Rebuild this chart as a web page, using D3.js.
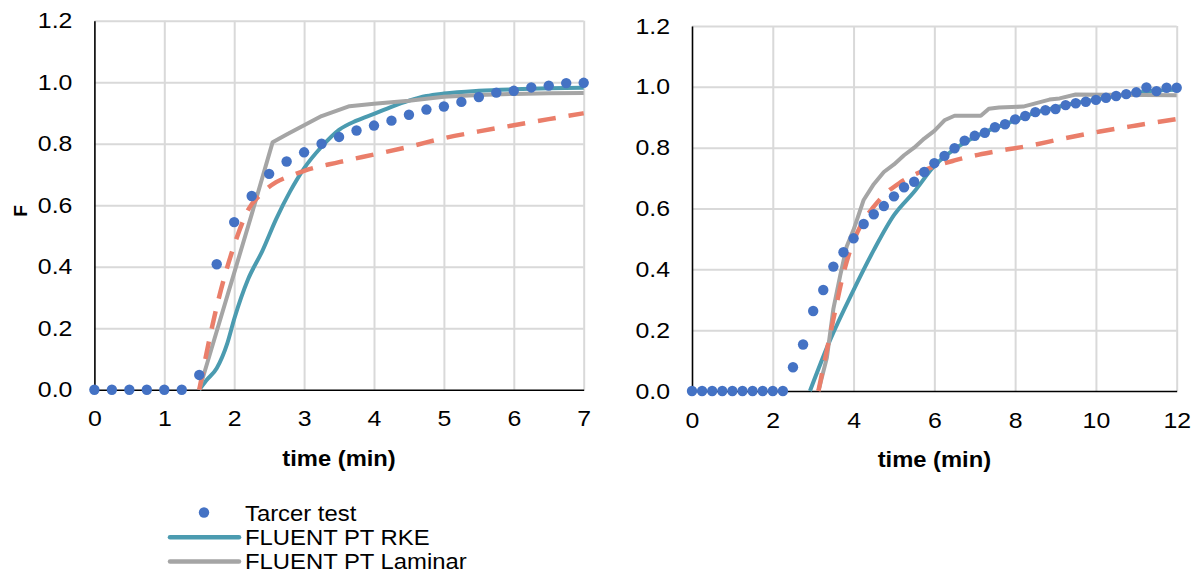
<!DOCTYPE html>
<html><head><meta charset="utf-8">
<script src="https://cdn.jsdelivr.net/npm/d3@7"></script>
<style>
body{margin:0;background:#fff;}
svg text{font-family:"Liberation Sans",Arial,sans-serif;fill:#000;}
</style></head>
<body><svg id="c" width="1198" height="574"></svg>
<script>
// ---------- data ----------
const leftTracerT = [0,0.25,0.5,0.75,1,1.25,1.5,1.75,2,2.25,2.5,2.75,3,3.25,3.5,3.75,4,4.25,4.5,4.75,5,5.25,5.5,5.75,6,6.25,6.5,6.75,7];
const leftTracerF = [0,0,0,0,0,0,0.048,0.408,0.545,0.63,0.702,0.742,0.772,0.80,0.822,0.843,0.859,0.875,0.894,0.911,0.921,0.936,0.952,0.966,0.972,0.983,0.989,0.997,0.998];
const leftRkeT = [1.5,1.6,1.75,1.9,2.0,2.2,2.4,2.6,2.8,3.0,3.25,3.5,3.75,4.0,4.25,4.5,4.75,5.0,5.5,6,6.5,7];
const leftRkeF = [0,0.03,0.07,0.15,0.23,0.36,0.45,0.555,0.645,0.72,0.79,0.845,0.875,0.897,0.92,0.94,0.955,0.963,0.972,0.977,0.98,0.982];
const leftLamT = [1.5,1.75,2.0,2.25,2.55,2.75,3.0,3.25,3.5,3.65,4.0,4.5,5.0,5.5,6.0,6.5,7.0];
const leftLamF = [0,0.19,0.38,0.57,0.805,0.83,0.86,0.89,0.91,0.922,0.93,0.94,0.953,0.958,0.962,0.964,0.965];
const leftDashT = [1.5,1.75,2.0,2.2,2.4,2.6,2.8,3.0,3.5,4.0,4.5,5.0,5.5,6.0,6.5,7.0];
const leftDashF = [0,0.27,0.47,0.585,0.64,0.675,0.695,0.712,0.74,0.765,0.79,0.818,0.84,0.86,0.88,0.899];

const rightTracerT = [0,0.25,0.5,0.75,1,1.25,1.5,1.75,2,2.25,2.5,2.75,3,3.25,3.5,3.75,4,4.25,4.5,4.75,5,5.25,5.5,5.75,6,6.25,6.5,6.75,7,7.25,7.5,7.75,8,8.25,8.5,8.75,9,9.25,9.5,9.75,10,10.25,10.5,10.75,11,11.25,11.5,11.75,12];
const rightTracerF = [0,0,0,0,0,0,0,0,0,0,0.078,0.153,0.263,0.332,0.409,0.456,0.502,0.549,0.581,0.608,0.64,0.67,0.688,0.72,0.749,0.773,0.798,0.823,0.839,0.849,0.867,0.877,0.893,0.904,0.917,0.923,0.927,0.94,0.946,0.951,0.957,0.964,0.97,0.976,0.982,0.998,0.986,0.997,0.997];
const rightRkeT = [2.92,3.42,4.0,4.5,5.0,5.5,6.0,6.5,7.0,7.5,8.0,8.5,9.0,9.5,10.0,10.5,11.0,11.5,12.0];
const rightRkeF = [0,0.168,0.332,0.463,0.578,0.655,0.74,0.795,0.835,0.865,0.89,0.915,0.932,0.947,0.958,0.97,0.98,0.988,0.99];
const rightLamT = [3.13,3.34,3.5,3.67,3.83,4.0,4.25,4.5,4.75,5.0,5.25,5.5,5.75,6.0,6.25,6.5,7.15,7.35,7.6,8.2,8.85,9.1,9.5,12.0];
const rightLamF = [0,0.11,0.27,0.38,0.475,0.53,0.628,0.68,0.72,0.745,0.775,0.80,0.83,0.855,0.89,0.905,0.905,0.928,0.932,0.935,0.958,0.962,0.975,0.972];
const rightDashT = [3.13,3.34,3.55,3.71,3.92,4.2,4.5,4.8,5.15,5.65,6.5,7.5,8.3,9.2,10.1,11.0,12.0];
const rightDashF = [0,0.135,0.267,0.365,0.464,0.55,0.606,0.65,0.685,0.72,0.758,0.787,0.805,0.83,0.853,0.873,0.894];

const yTicks = [0,0.2,0.4,0.6,0.8,1.0,1.2];
const leftXTicks = [0,1,2,3,4,5,6,7];
const rightXTicks = [0,2,4,6,8,10,12];
const xTitle = "time (min)";
const yTitle = "F";
const legendNames = ["Tarcer test","FLUENT PT RKE","FLUENT PT Laminar"];

const C = {dot:"#4472C4", rke:"#4B9BB0", lam:"#A5A5A5", dash:"#EA7E6A", grid:"#D9D9D9"};
const zip = (a,b)=>a.map((v,i)=>[v,b[i]]);
const SX = 1.13; // horizontal text stretch seen in the reference

const svg = d3.select("#c");

function panel(cfg){
  const x = d3.scaleLinear().domain([0,cfg.xmax]).range([cfg.x0,cfg.x1]);
  const y = d3.scaleLinear().domain([0,1.2]).range([cfg.y0,cfg.y1]);
  const g = svg.append("g");
  // gridlines
  g.append("g").attr("transform",`translate(0,${cfg.y0})`)
    .call(d3.axisBottom(x).tickValues(cfg.xticks.slice(1)).tickSize(-(cfg.y0-cfg.y1)).tickFormat(""))
    .call(s=>{s.select(".domain").remove();s.selectAll("line").attr("stroke",C.grid).attr("stroke-width",2);});
  g.append("g").attr("transform",`translate(${cfg.x0},0)`)
    .call(d3.axisLeft(y).tickValues(yTicks.slice(1)).tickSize(-(cfg.x1-cfg.x0)).tickFormat(""))
    .call(s=>{s.select(".domain").remove();s.selectAll("line").attr("stroke",C.grid).attr("stroke-width",2);});
  // axes (tick labels)
  g.append("g").attr("transform",`translate(0,${cfg.y0})`)
    .call(d3.axisBottom(x).tickValues(cfg.xticks).tickSize(0).tickPadding(21).tickFormat(d3.format("d")))
    .call(s=>{s.select(".domain").attr("stroke","#000").attr("stroke-width",1.6);
      s.selectAll("text").attr("font-size",22).attr("font-family","Liberation Sans, Arial")
        .attr("transform",`scale(${SX},1)`).attr("x",0);});
  g.append("g").attr("transform",`translate(${cfg.x0},0)`)
    .call(d3.axisLeft(y).tickValues(yTicks).tickSize(0).tickPadding(22).tickFormat(d3.format(".1f")))
    .call(s=>{s.select(".domain").attr("stroke","#000").attr("stroke-width",1.6);
      s.selectAll("text").attr("font-size",22).attr("font-family","Liberation Sans, Arial")
        .attr("x",0).attr("transform",`translate(-22,0) scale(${SX},1)`);});
  // series
  const line = d3.line().x(d=>x(d[0])).y(d=>y(d[1]));
  const smooth = d3.line().x(d=>x(d[0])).y(d=>y(d[1])).curve(d3.curveMonotoneX);
  g.append("path").attr("d",smooth(zip(cfg.rkeT,cfg.rkeF))).attr("fill","none").attr("stroke",C.rke).attr("stroke-width",4).attr("stroke-linejoin","round");
  g.append("path").attr("d",line(zip(cfg.lamT,cfg.lamF))).attr("fill","none").attr("stroke",C.lam).attr("stroke-width",4).attr("stroke-linejoin","round");
  g.append("path").attr("d",smooth(zip(cfg.dashT,cfg.dashF))).attr("fill","none").attr("stroke",C.dash).attr("stroke-width",4.5).attr("stroke-dasharray","18,13");
  g.append("g").selectAll("circle").data(zip(cfg.trT,cfg.trF)).join("circle")
    .attr("cx",d=>x(d[0])).attr("cy",d=>y(d[1])).attr("r",5.2).attr("fill",C.dot);
  // x title
  g.append("text").attr("transform",`translate(${(cfg.x0+cfg.x1)/2},${cfg.y0+76}) scale(1.08,1)`).attr("text-anchor","middle")
    .attr("font-size",22).attr("font-weight","bold").text(xTitle);
  return {x,y};
}

panel({xmax:7,x0:94.4,x1:583.7,y0:389.7,y1:20.7,xticks:leftXTicks,
  trT:leftTracerT,trF:leftTracerF,rkeT:leftRkeT,rkeF:leftRkeF,lamT:leftLamT,lamF:leftLamF,dashT:leftDashT,dashF:leftDashF});
panel({xmax:12,x0:692,x1:1176.7,y0:391,y1:26,xticks:rightXTicks,
  trT:rightTracerT,trF:rightTracerF,rkeT:rightRkeT,rkeF:rightRkeF,lamT:rightLamT,lamF:rightLamF,dashT:rightDashT,dashF:rightDashF});

// y title
svg.append("text").attr("transform","translate(27,211) rotate(-90)").attr("text-anchor","middle")
  .attr("font-size",19).attr("font-weight","bold").text(yTitle);

// legend
const lg = svg.append("g");
const ly = [512.5,537.3,561.5];
lg.append("circle").attr("cx",204).attr("cy",ly[0]).attr("r",5.2).attr("fill",C.dot);
lg.append("line").attr("x1",170).attr("x2",239).attr("y1",ly[1]).attr("y2",ly[1]).attr("stroke",C.rke).attr("stroke-width",4.5).attr("stroke-linecap","round");
lg.append("line").attr("x1",170).attr("x2",239).attr("y1",ly[2]).attr("y2",ly[2]).attr("stroke",C.lam).attr("stroke-width",4.5).attr("stroke-linecap","round");
lg.selectAll("text").data(legendNames).join("text")
  .attr("transform",(d,i)=>`translate(245,${[520.8,545.3,569.2][i]}) scale(1.06,1)`)
  .attr("font-size",22.5).text(d=>d);
</script></body></html>
